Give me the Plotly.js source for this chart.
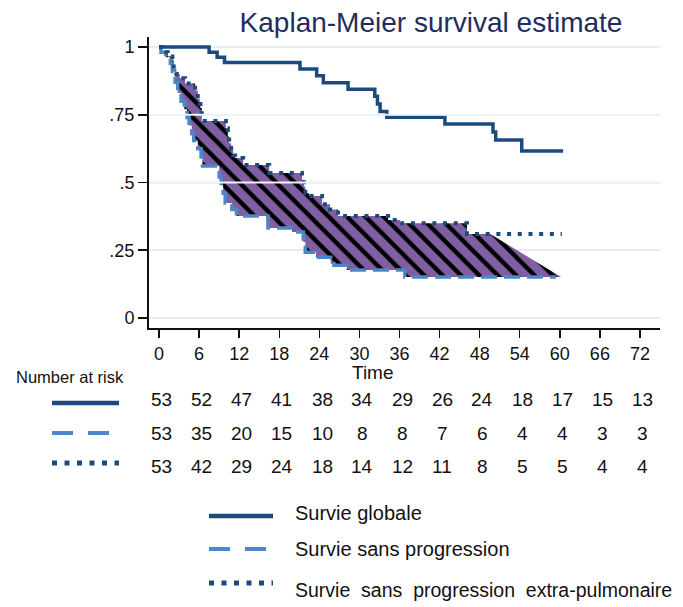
<!DOCTYPE html>
<html>
<head>
<meta charset="utf-8">
<script src="https://cdn.plot.ly/plotly-3.0.1.min.js"></script>
<style>html,body{margin:0;padding:0;background:#fff;}#chart{width:683px;height:607px;}</style>
</head>
<body>
<div id="chart"></div>
<script>
// ---- data ----
const osT  = [0, 7.5, 8.7, 9.8, 21.1, 23.6, 24.6, 28.3, 32.3, 32.7, 33.1, 34.1, 42.8, 50.0, 50.4, 54.3, 60.5];
const osS  = [1, .981, .962, .943, .919, .894, .868, .844, .818, .79, .762, .741, .716, .686, .657, .616, .616];

const pfsT = [0, 0.3, 1.0, 1.7, 2.0, 2.4, 2.8, 3.3, 3.8, 4.2, 4.5, 4.9, 5.2, 5.8, 6.3, 6.5, 9.0, 9.3, 9.6, 9.9, 10.9, 11.6, 16.3, 19.9, 21.6, 21.9, 23.5, 25.7, 26.2, 28.1, 36.8, 59.4];
const pfsS = [1, .981, .962, .94, .91, .87, .83, .80, .77, .74, .71, .68, .655, .625, .594, .561, .52, .49, .46, .424, .40, .376, .332, .317, .28, .243, .224, .20, .195, .177, .151, .151];

const epT  = [0, 0.4, 1.3, 2.0, 2.2, 2.6, 3.1, 3.9, 5.4, 5.8, 6.1, 6.2, 6.4, 10.0, 10.3, 10.5, 10.8, 11.1, 11.4, 12.6, 16.5, 21.4, 21.7, 21.9, 22.5, 24.4, 25.6, 26.8, 34.3, 36.1, 46.1, 60.3];
const epS  = [1, .981, .965, .95, .92, .90, .885, .865, .84, .81, .79, .775, .727, .70, .67, .645, .62, .60, .59, .565, .535, .51, .485, .46, .45, .42, .40, .376, .362, .35, .31, .31];

// tail of the shaded band's upper edge
const bandTailT = [49.6, 60.2];
const bandTailS = [0.31, 0.151];

const tickVals   = [0, 6, 12, 18, 24, 30, 36, 42, 48, 54, 60, 66, 72];
const yTickVals  = [0, 0.25, 0.5, 0.75, 1];
const yTickText  = ['0', '.25', '.5', '.75', '1'];
// gridlines that the reference draws over the shaded band
const overGridVals = [0.5, 0.75];

const riskOS  = [53, 52, 47, 41, 38, 34, 29, 26, 24, 18, 17, 15, 13];
const riskPFS = [53, 35, 20, 15, 10, 8, 8, 7, 6, 4, 4, 3, 3];
const riskEP  = [53, 42, 29, 24, 18, 14, 12, 11, 8, 5, 5, 4, 4];

const seriesNames = ['Survie globale', 'Survie sans progression', 'Survie&nbsp; sans&nbsp; progression&nbsp; extra-pulmonaire'];

// ---- build ----
const FONT = 'Liberation Sans, Arial, sans-serif';
const DARK = '#1b4a7c';
const LIGHT = '#4d87c7';
const PURPLE = '#7f5fa1';
const GRID = '#e6eef1';

function stepPoints(T, S, tMax) {
  const xs = [T[0]], ys = [S[0]];
  for (let i = 1; i < T.length; i++) {
    if (T[i] > tMax) { xs.push(tMax); ys.push(S[i-1]); return {xs, ys}; }
    xs.push(T[i]); ys.push(S[i-1]);
    xs.push(T[i]); ys.push(S[i]);
  }
  return {xs, ys};
}
const up = stepPoints(epT, epS, bandTailT[0]);
const lo = stepPoints(pfsT, pfsS, Infinity);
const bandX = up.xs.concat(bandTailT.slice(1), lo.xs.slice().reverse());
const bandY = up.ys.concat(bandTailS.slice(1), lo.ys.slice().reverse());

const traces = [
  {x: bandX, y: bandY, type: 'scatter', mode: 'lines', fill: 'toself',
   fillcolor: PURPLE, line: {width: 0, color: PURPLE},
   fillpattern: {shape: '\\', fgcolor: '#000000', bgcolor: PURPLE, size: 13, solidity: 0.33},
   hoverinfo: 'skip', showlegend: false},
  {x: pfsT, y: pfsS, type: 'scatter', mode: 'lines',
   line: {shape: 'hv', color: LIGHT, width: 3.5, dash: '16px,7px'}, showlegend: false},
  {x: epT, y: epS, type: 'scatter', mode: 'lines',
   line: {shape: 'hv', color: DARK, width: 4, dash: '4px,6.7px'}, showlegend: false},
  {x: osT, y: osS, type: 'scatter', mode: 'lines',
   line: {shape: 'hv', color: DARK, width: 3.5}, showlegend: false}
];

// paper coordinate helpers (plot area: x 149..660 px, y 37..328 px)
const PL = 149, PW = 511, PB = 328, PH = 291;
const px = v => (v - PL) / PW;
const py = v => (PB - v) / PH;

const annotations = [];
const shapes = [];

overGridVals.forEach(v => {
  shapes.push({type: 'line', xref: 'paper', yref: 'y', x0: 0, x1: 1, y0: v, y1: v,
    layer: 'above', line: {color: '#eef3f5', width: 2}});
});

annotations.push({text: 'Time', xref: 'paper', yref: 'paper', x: px(373), y: py(373),
  showarrow: false, xanchor: 'center', yanchor: 'middle', font: {family: FONT, size: 19, color: '#111'}});
annotations.push({text: 'Number at risk', xref: 'paper', yref: 'paper', x: px(70), y: py(377),
  showarrow: false, xanchor: 'center', yanchor: 'middle', font: {family: FONT, size: 16.5, color: '#111'}});

const riskRows = [riskOS, riskPFS, riskEP];
const rowY = [399, 433, 466];
riskRows.forEach((row, r) => {
  row.forEach((n, i) => {
    annotations.push({text: String(n), xref: 'x', yref: 'paper', x: tickVals[i] + 0.4, y: py(rowY[r]),
      showarrow: false, xanchor: 'center', yanchor: 'middle', font: {family: FONT, size: 19, color: '#111'}});
  });
});

// line keys for risk table and legend
const keyStyles = [
  {color: DARK, width: 4.5, dash: 'solid'},
  {color: LIGHT, width: 4, dash: '21px,15px'},
  {color: DARK, width: 5, dash: '5px,7.5px'}
];
const tableKeyY = [403, 433, 463];
keyStyles.forEach((st, k) => {
  shapes.push({type: 'line', xref: 'paper', yref: 'paper', x0: px(52), x1: px(119), y0: py(tableKeyY[k]), y1: py(tableKeyY[k]), line: st});
});
const legKeyY = [516, 549, 583];
const legTextY = [513, 549, 590];
keyStyles.forEach((st, k) => {
  shapes.push({type: 'line', xref: 'paper', yref: 'paper', x0: px(209), x1: px(273), y0: py(legKeyY[k]), y1: py(legKeyY[k]), line: st});
  annotations.push({text: seriesNames[k], xref: 'paper', yref: 'paper', x: px(293), y: py(legTextY[k]),
    showarrow: false, xanchor: 'left', yanchor: 'middle', font: {family: FONT, size: k === 2 ? 19.5 : 20, color: '#111'}});
});

const layout = {
  width: 683, height: 607,
  margin: {l: PL, r: 683 - PL - PW, t: PB - PH, b: 607 - PB},
  paper_bgcolor: '#ffffff', plot_bgcolor: '#ffffff',
  showlegend: false,
  font: {family: FONT, color: '#111'},
  title: {text: 'Kaplan-Meier survival estimate', xref: 'container', yref: 'container',
    x: 431 / 683, y: 1 - 22 / 607, xanchor: 'center', yanchor: 'middle',
    font: {family: FONT, size: 28, color: '#1f2d5e'}},
  xaxis: {range: [-1.5, 75], tickvals: tickVals, ticktext: tickVals.map(String),
    showgrid: false, zeroline: false, showline: true, linecolor: '#111', linewidth: 2,
    ticks: 'outside', ticklen: 8, tickwidth: 1.5, tickcolor: '#111',
    tickfont: {family: FONT, size: 18, color: '#111'}},
  yaxis: {range: [-0.037, 1.037], tickvals: yTickVals, ticktext: yTickText,
    showgrid: true, gridcolor: GRID, gridwidth: 2, zeroline: false,
    showline: true, linecolor: '#111', linewidth: 2,
    ticks: 'outside', ticklen: 9, tickwidth: 1.5, tickcolor: '#111',
    tickfont: {family: FONT, size: 18, color: '#111'}},
  annotations: annotations,
  shapes: shapes
};

Plotly.newPlot('chart', traces, layout, {staticPlot: true, displayModeBar: false});
</script>
</body>
</html>
